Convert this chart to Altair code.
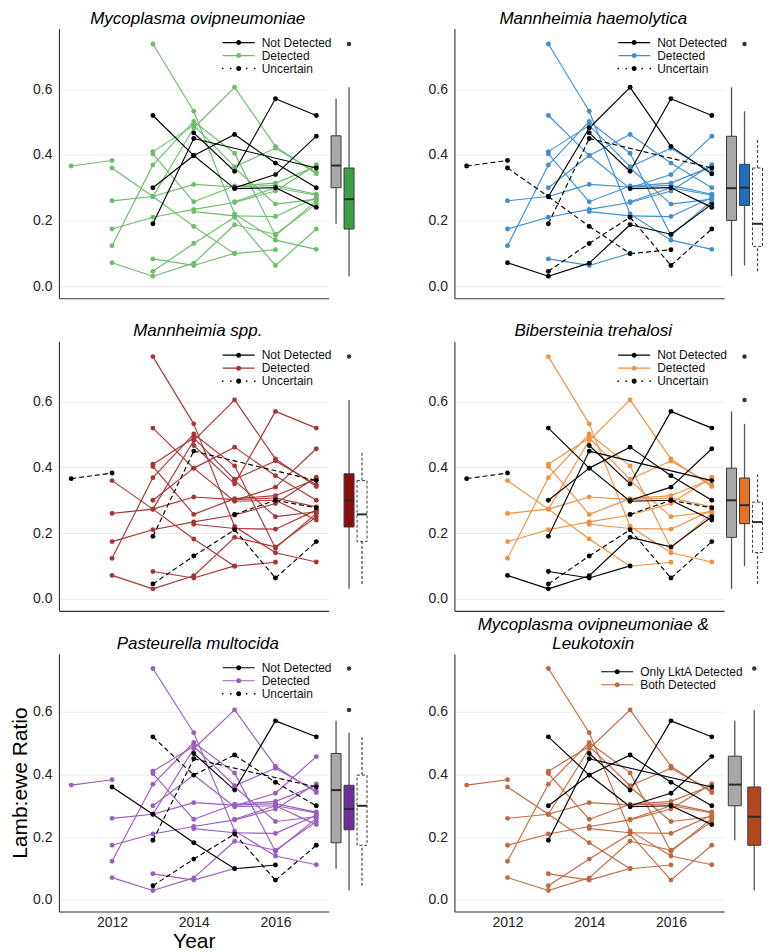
import altair as alt
import pandas as pd

FONT = "Liberation Sans"

# ---------------- data ----------------
YEARS = [2011, 2012, 2013, 2014, 2015, 2016, 2017]
_ = None
TRAJ_P1 = [0.366, 0.383, _, _, _, _, _]
TRAJ_P2 = [_, 0.360, 0.273, 0.182, 0.099, 0.111, _]
TRAJ_P3 = [_, 0.260, 0.273, 0.310, 0.302, 0.307, 0.280]
TRAJ_P4 = [_, 0.174, 0.210, 0.234, 0.255, 0.290, 0.370]
TRAJ_P5 = [_, 0.123, 0.369, 0.502, 0.405, 0.154, 0.260]
TRAJ_P6 = [_, 0.071, 0.030, 0.070, 0.187, 0.158, 0.250]
TRAJ_B1 = [_, _, 0.273, 0.482, 0.606, 0.426, 0.342]
TRAJ_B2 = [_, _, _, 0.467, 0.350, 0.571, 0.520]
TRAJ_B3 = [_, _, 0.300, 0.398, 0.297, 0.300, 0.240]
TRAJ_B4 = [_, _, _, _, 0.300, 0.340, 0.457]
TRAJ_U1 = [_, _, 0.520, 0.398, 0.462, 0.375, 0.300]
TRAJ_U2 = [_, _, 0.190, 0.450, _, _, 0.360]
TRAJ_U3 = [_, _, _, _, 0.257, 0.300, 0.277]
TRAJ_D2 = [_, _, 0.045, 0.130, 0.210, 0.063, 0.174]
TRAJ_G1 = [_, _, 0.738, 0.533, 0.220, 0.140, 0.112]
TRAJ_G2 = [_, _, 0.410, 0.490, 0.364, 0.420, 0.347]
TRAJ_G3 = [_, _, 0.403, 0.257, 0.305, 0.314, 0.365]
TRAJ_G4 = [_, _, 0.083, 0.063, 0.100, _, _]
TRAJ_G5 = [_, _, _, 0.227, 0.214, 0.212, 0.270]
TRAJ_G6 = [_, _, _, _, 0.360, 0.250, 0.265]

TRAJ = {
    "P1": TRAJ_P1, "P2": TRAJ_P2, "P3": TRAJ_P3, "P4": TRAJ_P4, "P5": TRAJ_P5,
    "P6": TRAJ_P6, "B1": TRAJ_B1, "B2": TRAJ_B2, "B3": TRAJ_B3, "B4": TRAJ_B4,
    "U1": TRAJ_U1, "U2": TRAJ_U2, "U3": TRAJ_U3, "D2": TRAJ_D2, "G1": TRAJ_G1,
    "G2": TRAJ_G2, "G3": TRAJ_G3, "G4": TRAJ_G4, "G5": TRAJ_G5, "G6": TRAJ_G6,
}

TITLES = [
    "Mycoplasma ovipneumoniae",
    "Mannheimia haemolytica",
    "Mannheimia spp.",
    "Bibersteinia trehalosi",
    "Pasteurella multocida",
    ["Mycoplasma ovipneumoniae &", "Leukotoxin"],
]
LINE_COLORS = ["#6dbd6b", "#3f8fd2", "#a83535", "#ef9142", "#9a5ec1", "#c16a42"]
BOX_COLORS = ["#3e9e4c", "#1b6fc0", "#8b0c0c", "#e8721f", "#6b2e9c", "#b4471d"]
GRAY_BOX = "#a8a8a8"

STATUS_LABELS = ["Not Detected", "Detected", "Uncertain"]
LKT_LABELS = ["Only LktA Detected", "Both Detected"]

NOT_DETECTED = [
    ["B2", "B3", "B4", "U1", "U2"],
    ["B1", "B2", "B3", "P6"],
    [],
    ["U1", "B2", "B3", "B4", "P6", "U2", "G4"],
    ["P2", "B2"],
    ["B2", "B3", "B4", "U1", "U2"],
]
UNCERTAIN = [
    [],
    ["P1", "P2", "D2", "U2"],
    ["P1", "U2", "D2", "U3"],
    ["P1", "D2", "U3"],
    ["U1", "U2", "D2"],
    [],
]
# years in which a trajectory is still "Detected" in a given panel
DETECTED_YEARS = {(1, "B3"): [2013, 2014]}

YDOM = [-0.037, 0.785]
XDOM = [2010.7, 2017.3]

W = 270
HEIGHTS = [270, 270, 258]
BOX_W = 39

_DOT = "M-0.42,0A0.42,0.42,0,1,1,0.42,0A0.42,0.42,0,1,1,-0.42,0Z"
SOLID_SYM = ("M-2.67,-0.1L-0.3,-0.1L-0.3,0.1L-2.67,0.1Z "
             "M0.3,-0.1L2.67,-0.1L2.67,0.1L0.3,0.1Z " + _DOT)
DOT_SYM = ("M-2.8,-0.12h0.25v0.25h-0.25Z M-1.45,-0.12h0.25v0.25h-0.25Z "
           "M1.2,-0.12h0.25v0.25h-0.25Z M2.55,-0.12h0.25v0.25h-0.25Z " + _DOT)


def status_code(p, name, yr):
    if (p, name) in DETECTED_YEARS and yr in DETECTED_YEARS[(p, name)]:
        return "D"
    if name in NOT_DETECTED[p]:
        return "N"
    if name in UNCERTAIN[p]:
        return "U"
    return "D"


def panel_frames(p):
    if p == 5:
        lab = {"N": LKT_LABELS[0], "D": LKT_LABELS[1]}
    else:
        lab = {"N": STATUS_LABELS[0], "D": STATUS_LABELS[1], "U": STATUS_LABELS[2]}
    order = {"D": 0, "N": 1, "U": 2}
    pts, segs = [], []
    for name, vals in TRAJ.items():
        prev = None
        for yr, v in zip(YEARS, vals):
            if v is None:
                continue
            st = status_code(p, name, yr)
            pts.append({"x": yr, "y": v, "s": lab[st], "o": order[st]})
            if prev is not None:
                segs.append({"x": prev[0], "y": prev[1], "x2": yr, "y2": v,
                             "s": lab[prev[2]], "o": order[prev[2]]})
            prev = (yr, v, st)
    pts = pd.DataFrame(pts).sort_values("o", kind="stable")
    segs = pd.DataFrame(segs).sort_values("o", kind="stable")
    return pts, segs


def line_panel(p, height):
    pts, segs = panel_frames(p)
    row = p // 2
    left = p % 2 == 0
    bottom = row == 2
    if p == 5:
        labels = LKT_LABELS
        crange = ["#000000", LINE_COLORS[p]]
        shapes = [SOLID_SYM, SOLID_SYM]
        lx, ly = 157, 12
    else:
        labels = STATUS_LABELS
        crange = ["#000000", LINE_COLORS[p], "#000000"]
        shapes = [SOLID_SYM, SOLID_SYM, DOT_SYM]
        lx, ly = 174, 8

    xs = alt.Scale(domain=XDOM, nice=False, zero=False)
    ys = alt.Scale(domain=YDOM, nice=False, zero=False)
    xaxis = alt.Axis(values=[2012, 2014, 2016], format="d", labels=bottom,
                     title="Year" if (bottom and left) else None,
                     grid=False, ticks=False, domainColor="#333333", domainWidth=1.1,
                     labelFontSize=14, labelPadding=4, labelColor="#222222", labelFont=FONT,
                     titleFontSize=21, titleFontWeight="normal", titleFont=FONT,
                     titleColor="#000000", titlePadding=1)
    yaxis = alt.Axis(values=[0, 0.2, 0.4, 0.6], format=".1f", grid=True,
                     gridColor="#ebebeb", gridWidth=1, ticks=False,
                     domainColor="#333333", domainWidth=1.1,
                     labelFontSize=14, labelPadding=7, labelColor="#222222", labelFont=FONT,
                     title="Lamb:ewe Ratio" if (bottom and left) else None,
                     titleFontSize=21, titleFontWeight="normal", titleFont=FONT,
                     titleColor="#000000", titlePadding=2.5)
    cscale = alt.Scale(domain=labels, range=crange)
    legend = alt.Legend(title=None, orient="none", legendX=lx, legendY=ly,
                        symbolSize=144, labelOffset=17, rowPadding=1, padding=0,
                        labelFontSize=12, labelFont=FONT, labelColor="#111111",
                        symbolStrokeWidth=0)

    # legend-only layer (first, so that its legend settings win)
    leg = alt.Chart(pts).transform_filter("datum.x < 0").mark_point(
        filled=True, opacity=1, size=144, strokeWidth=0).encode(
        x=alt.X("x:Q", scale=xs, axis=xaxis),
        y=alt.Y("y:Q", scale=ys, axis=yaxis),
        color=alt.Color("s:N", scale=cscale, legend=legend),
        shape=alt.Shape("s:N", scale=alt.Scale(domain=labels, range=shapes), legend=legend),
    )
    solid = alt.Chart(segs).transform_filter(alt.datum.s != "Uncertain").mark_rule(
        strokeWidth=1.15).encode(
        x=alt.X("x:Q", scale=xs, axis=xaxis),
        y=alt.Y("y:Q", scale=ys, axis=yaxis),
        x2="x2:Q", y2="y2:Q",
        color=alt.Color("s:N", scale=cscale, legend=None),
    )
    layers = [leg, solid]
    if p != 5:
        dashed = alt.Chart(segs).transform_filter(alt.datum.s == "Uncertain").mark_rule(
            strokeWidth=1.15, strokeDash=[5, 3]).encode(
            x=alt.X("x:Q", scale=xs, axis=xaxis),
            y=alt.Y("y:Q", scale=ys, axis=yaxis),
            x2="x2:Q", y2="y2:Q",
            color=alt.Color("s:N", scale=cscale, legend=None),
        )
        layers.append(dashed)
    dots = alt.Chart(pts).mark_circle(size=24, opacity=1).encode(
        x=alt.X("x:Q", scale=xs, axis=xaxis),
        y=alt.Y("y:Q", scale=ys, axis=yaxis),
        color=alt.Color("s:N", scale=cscale, legend=None),
    )
    layers.append(dots)
    title = alt.TitleParams(text=TITLES[p], fontStyle="italic", fontSize=17, font=FONT,
                            fontWeight="normal", color="#000000", offset=1,
                            anchor="middle", dx=4)
    return alt.layer(*layers).properties(width=W, height=height, title=title)


def box_panel(p, height, width):
    pts, _segs = panel_frames(p)
    if p == 5:
        labels = LKT_LABELS
        fills = [GRAY_BOX, BOX_COLORS[p]]
        dashed = [False, False]
        size = 13
    else:
        labels = STATUS_LABELS
        fills = [GRAY_BOX, BOX_COLORS[p], "#ffffff"]
        dashed = [False, False, True]
        size = 10
    layers = []
    for lab, fill, dsh in zip(labels, fills, dashed):
        dash = {"strokeDash": [3, 2]} if dsh else {}
        layers.append(
            alt.Chart(pts).transform_filter(alt.datum.s == lab).mark_boxplot(
                extent=1.5, size=size, color=fill, opacity=1,
                box={"stroke": "#3a3a3a", "strokeWidth": 1, **dash},
                median={"color": "#2b2b2b", "thickness": 2},
                rule={"color": "#555555", "strokeWidth": 1.3, **dash},
                outliers={"color": "#333333", "size": 20, "filled": True, "opacity": 1},
            ).encode(
                x=alt.X("s:N", scale=alt.Scale(domain=labels, range=[0, BOX_W],
                                               paddingInner=0, paddingOuter=0), axis=None),
                y=alt.Y("y:Q", scale=alt.Scale(domain=YDOM, nice=False, zero=False), axis=None),
            )
        )
    return alt.layer(*layers).properties(width=width, height=height)


RES = dict(color="independent", shape="independent")

cells = []
for r in range(3):
    h = HEIGHTS[r]
    for c in range(2):
        p = 2 * r + c
        cells.append(line_panel(p, h))
        cells.append(box_panel(p, h, 124 if c == 0 else BOX_W))

chart = alt.concat(*cells, columns=4, spacing={"row": 43, "column": 1},
                   bounds="flush", align="each") \
    .resolve_scale(**RES).resolve_legend(**RES) \
    .properties(padding={"left": 0, "top": 0, "right": 0, "bottom": 0}) \
    .configure_view(stroke="transparent")

chart.save("out.html", embed_options={"renderer": "svg", "actions": False})
